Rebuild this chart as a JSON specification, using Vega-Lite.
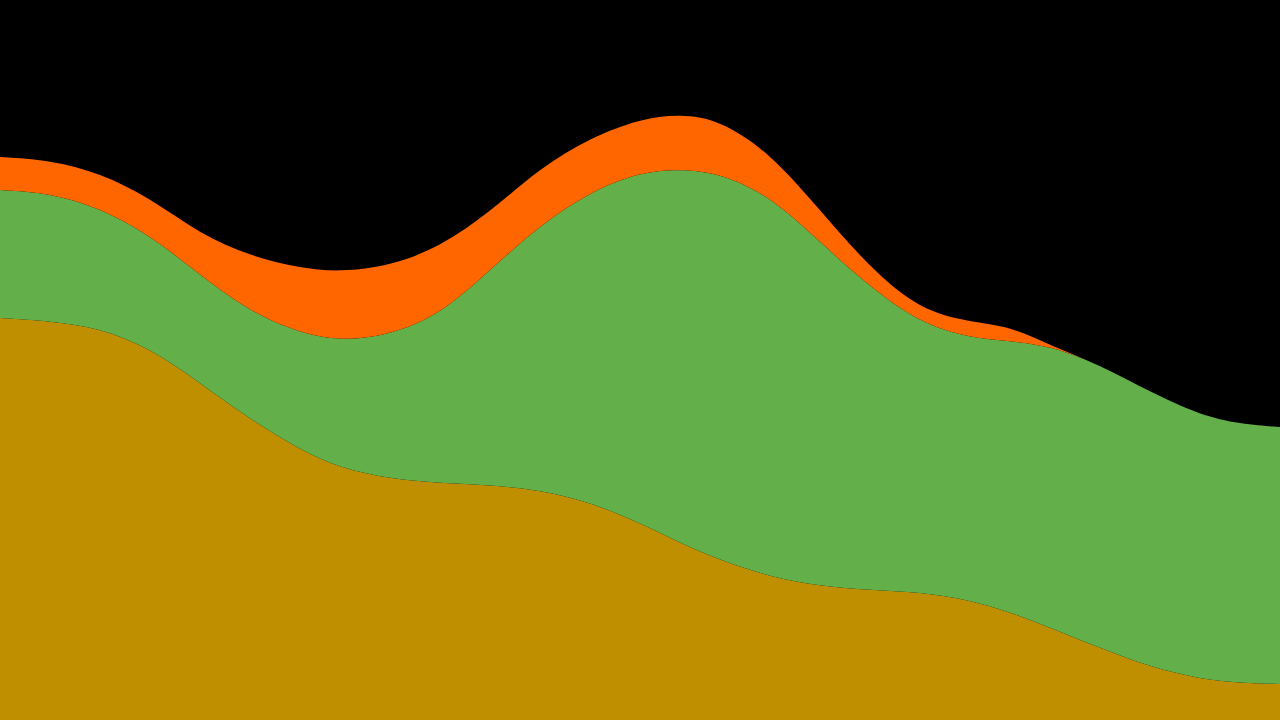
{
  "$schema": "https://vega.github.io/schema/vega-lite/v6.json",
  "description": "Stacked smooth areas on black, no axes.",
  "width": 1280,
  "height": 720,
  "autosize": {"type": "fit", "contains": "padding"},
  "padding": 0,
  "background": "#000000",
  "config": {"view": {"stroke": null}},
  "data": {
    "values": [
      {"x": 0, "series": "gold", "rank": 1, "v": 402},
      {"x": 50, "series": "gold", "rank": 1, "v": 399},
      {"x": 100, "series": "gold", "rank": 1, "v": 392},
      {"x": 150, "series": "gold", "rank": 1, "v": 372},
      {"x": 200, "series": "gold", "rank": 1, "v": 337},
      {"x": 250, "series": "gold", "rank": 1, "v": 301},
      {"x": 300, "series": "gold", "rank": 1, "v": 270},
      {"x": 340, "series": "gold", "rank": 1, "v": 252},
      {"x": 390, "series": "gold", "rank": 1, "v": 241},
      {"x": 440, "series": "gold", "rank": 1, "v": 237},
      {"x": 490, "series": "gold", "rank": 1, "v": 235},
      {"x": 540, "series": "gold", "rank": 1, "v": 230},
      {"x": 590, "series": "gold", "rank": 1, "v": 218},
      {"x": 640, "series": "gold", "rank": 1, "v": 197},
      {"x": 680, "series": "gold", "rank": 1, "v": 177},
      {"x": 720, "series": "gold", "rank": 1, "v": 160},
      {"x": 770, "series": "gold", "rank": 1, "v": 143},
      {"x": 820, "series": "gold", "rank": 1, "v": 134},
      {"x": 870, "series": "gold", "rank": 1, "v": 130},
      {"x": 920, "series": "gold", "rank": 1, "v": 128},
      {"x": 970, "series": "gold", "rank": 1, "v": 120},
      {"x": 1010, "series": "gold", "rank": 1, "v": 108},
      {"x": 1051, "series": "gold", "rank": 1, "v": 92},
      {"x": 1100, "series": "gold", "rank": 1, "v": 72},
      {"x": 1150, "series": "gold", "rank": 1, "v": 53},
      {"x": 1200, "series": "gold", "rank": 1, "v": 41},
      {"x": 1240, "series": "gold", "rank": 1, "v": 37},
      {"x": 1280, "series": "gold", "rank": 1, "v": 36},

      {"x": 0, "series": "green", "rank": 2, "v": 128},
      {"x": 50, "series": "green", "rank": 2, "v": 128},
      {"x": 100, "series": "green", "rank": 2, "v": 120},
      {"x": 150, "series": "green", "rank": 2, "v": 113},
      {"x": 200, "series": "green", "rank": 2, "v": 108},
      {"x": 250, "series": "green", "rank": 2, "v": 107},
      {"x": 300, "series": "green", "rank": 2, "v": 117},
      {"x": 340, "series": "green", "rank": 2, "v": 127},
      {"x": 390, "series": "green", "rank": 2, "v": 144},
      {"x": 440, "series": "green", "rank": 2, "v": 168},
      {"x": 490, "series": "green", "rank": 2, "v": 215},
      {"x": 540, "series": "green", "rank": 2, "v": 265},
      {"x": 590, "series": "green", "rank": 2, "v": 310},
      {"x": 640, "series": "green", "rank": 2, "v": 351},
      {"x": 680, "series": "green", "rank": 2, "v": 374},
      {"x": 720, "series": "green", "rank": 2, "v": 387},
      {"x": 770, "series": "green", "rank": 2, "v": 381},
      {"x": 820, "series": "green", "rank": 2, "v": 344},
      {"x": 870, "series": "green", "rank": 2, "v": 303},
      {"x": 920, "series": "green", "rank": 2, "v": 269},
      {"x": 970, "series": "green", "rank": 2, "v": 262},
      {"x": 1010, "series": "green", "rank": 2, "v": 271},
      {"x": 1051, "series": "green", "rank": 2, "v": 282},
      {"x": 1100, "series": "green", "rank": 2, "v": 283},
      {"x": 1150, "series": "green", "rank": 2, "v": 275},
      {"x": 1200, "series": "green", "rank": 2, "v": 264},
      {"x": 1240, "series": "green", "rank": 2, "v": 259},
      {"x": 1280, "series": "green", "rank": 2, "v": 257},

      {"x": 0, "series": "orange", "rank": 3, "v": 33},
      {"x": 50, "series": "orange", "rank": 3, "v": 33},
      {"x": 100, "series": "orange", "rank": 3, "v": 35},
      {"x": 150, "series": "orange", "rank": 3, "v": 37},
      {"x": 200, "series": "orange", "rank": 3, "v": 41},
      {"x": 250, "series": "orange", "rank": 3, "v": 56},
      {"x": 300, "series": "orange", "rank": 3, "v": 65},
      {"x": 340, "series": "orange", "rank": 3, "v": 69},
      {"x": 390, "series": "orange", "rank": 3, "v": 69},
      {"x": 440, "series": "orange", "rank": 3, "v": 68},
      {"x": 490, "series": "orange", "rank": 3, "v": 58},
      {"x": 540, "series": "orange", "rank": 3, "v": 57},
      {"x": 590, "series": "orange", "rank": 3, "v": 54},
      {"x": 640, "series": "orange", "rank": 3, "v": 53},
      {"x": 680, "series": "orange", "rank": 3, "v": 55},
      {"x": 720, "series": "orange", "rank": 3, "v": 53},
      {"x": 770, "series": "orange", "rank": 3, "v": 43},
      {"x": 820, "series": "orange", "rank": 3, "v": 32},
      {"x": 870, "series": "orange", "rank": 3, "v": 19},
      {"x": 920, "series": "orange", "rank": 3, "v": 13},
      {"x": 970, "series": "orange", "rank": 3, "v": 16},
      {"x": 1010, "series": "orange", "rank": 3, "v": 15},
      {"x": 1051, "series": "orange", "rank": 3, "v": 0},
      {"x": 1100, "series": "orange", "rank": 3, "v": 0},
      {"x": 1150, "series": "orange", "rank": 3, "v": 0},
      {"x": 1200, "series": "orange", "rank": 3, "v": 0},
      {"x": 1240, "series": "orange", "rank": 3, "v": 0},
      {"x": 1280, "series": "orange", "rank": 3, "v": 0}
    ]
  },
  "mark": {"type": "area", "interpolate": "basis"},
  "encoding": {
    "x": {
      "field": "x",
      "type": "quantitative",
      "scale": {"domain": [0, 1280], "nice": false, "zero": false},
      "axis": null
    },
    "y": {
      "field": "v",
      "type": "quantitative",
      "stack": "zero",
      "scale": {"domain": [0, 720], "nice": false},
      "axis": null
    },
    "color": {
      "field": "series",
      "type": "nominal",
      "scale": {
        "domain": ["gold", "green", "orange"],
        "range": ["#bf8f00", "#63b04b", "#ff6600"]
      },
      "legend": null
    },
    "order": {"field": "rank", "type": "quantitative"}
  }
}
